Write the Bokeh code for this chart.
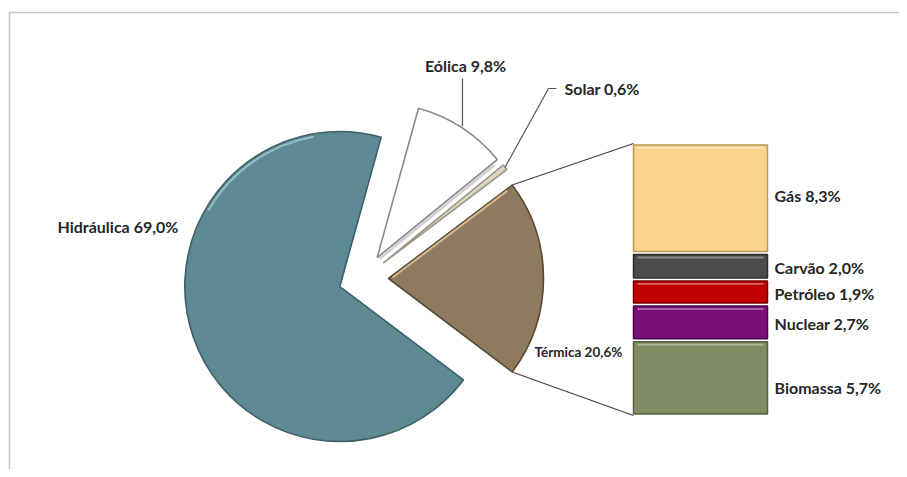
import math
from bokeh.plotting import figure
from bokeh.models import Range1d
from bokeh.core.properties import value
from bokeh.embed import file_html
from bokeh.resources import INLINE

# ---- data ----
categories = ["Hidráulica", "Eólica", "Solar", "Térmica"]
shares = [69.0, 9.8, 0.6, 20.6]
sub_categories = ["Gás", "Carvão", "Petróleo", "Nuclear", "Biomassa"]
sub_shares = [8.3, 2.0, 1.9, 2.7, 5.7]

# ---- styles ----
pie_fill = {"Hidráulica": "#5E8A94", "Eólica": "#FFFFFF", "Solar": "#DCD6C0", "Térmica": "#8E7A5E"}
pie_line = {"Hidráulica": "#3E5F67", "Eólica": "#8A8A8A", "Solar": "#9A9482", "Térmica": "#5A4A36"}
sub_fill = ["#FCD48C", "#4B4B4B", "#C00000", "#7A0F7A", "#7F8C63"]
sub_line = ["#B89A5E", "#2E2E2E", "#7A0000", "#4C064C", "#56603F"]
label_nudge = [-3, 1, 1, 1, 10]  # px offsets of the bar labels (screen, downward)
FONT = "Lato"
TXT = "#262626"

W, H = 899, 469
def Y(ys):
    return 477 - ys

p = figure(width=W, height=H, x_range=Range1d(0, W), y_range=Range1d(477 - H, 477),
           output_backend="svg", toolbar_location=None, min_border=0)
p.axis.visible = False
p.grid.visible = False
p.outline_line_color = None
p.background_fill_color = "white"
p.border_fill_color = "white"

# frame of the chart area
p.line([9, 9, 907], [Y(470), Y(12), Y(12)], line_color="#C6C6C6", line_width=1.5)

def fmt(v):
    return format(v, ".1f").replace(".", ",") + "%"

# ---- pie ----
cx, cy, r, d = 363, Y(278), 155, 25
total = sum(shares)
order = [3, 2, 1, 0]  # anticlockwise from the Térmica slice centred on 0 rad
ang = -shares[3] / total * math.pi
geo = {}
for i in order:
    a0 = ang
    a1 = ang + shares[i] / total * 2 * math.pi
    mid = (a0 + a1) / 2
    ax, ay = cx + d * math.cos(mid), cy + d * math.sin(mid)
    geo[categories[i]] = (ax, ay, a0, a1, mid)
    ang = a1

for name in categories:
    ax, ay, a0, a1, mid = geo[name]
    p.wedge(x=[ax], y=[ay], radius=r, start_angle=[a0], end_angle=[a1], direction="anticlock",
            fill_color=pie_fill[name], line_color=pie_line[name], line_width=1.6)

# soft bevel highlights
ax, ay, a0, a1, mid = geo["Hidráulica"]
p.arc(x=[ax], y=[ay], radius=r - 3, start_angle=[math.radians(100)], end_angle=[math.radians(150)],
      direction="anticlock", line_color="#A9D6E0", line_width=2, line_alpha=0.7)
ax, ay, a0, a1, mid = geo["Térmica"]
p.line([ax + 4, ax + (r - 6) * math.cos(a1)], [ay + 1, ay + (r - 6) * math.sin(a1) - 2],
       line_color="#E8C79A", line_width=2, line_alpha=0.8)
ax, ay, a0, a1, mid = geo["Eólica"]
p.line([ax + 3 * math.cos(a0), ax + (r - 4) * math.cos(a0)],
       [ay + 3 * math.sin(a0) - 3, ay + (r - 4) * math.sin(a0) - 3],
       line_color="#BDBDBD", line_width=3, line_alpha=0.7)

# ---- bar of pie ----
bx0, bx1 = 633, 767
btop, bbot = Y(143), Y(415)
scale = (btop - bbot) / shares[3]
tops, bots, mids = [], [], []
cur = btop
for v in sub_shares:
    tops.append(cur)
    bots.append(cur - v * scale)
    mids.append(cur - v * scale / 2)
    cur -= v * scale
p.quad(left=bx0, right=bx1, top=[t - 1.5 for t in tops], bottom=[b + 1.5 for b in bots],
       fill_color=sub_fill, line_color=sub_line, line_width=1.5)
p.segment(x0=[bx0 + 4] * len(tops), x1=[bx1 - 4] * len(tops), y0=[t - 4.5 for t in tops], y1=[t - 4.5 for t in tops],
          line_color="white", line_alpha=0.35, line_width=2)

# connector lines
ax, ay, a0, a1, mid = geo["Térmica"]
p.line([ax + r * math.cos(a1), bx0], [ay + r * math.sin(a1), btop], line_color="#404040", line_width=1.2)
p.line([ax + r * math.cos(a0), bx0], [ay + r * math.sin(a0), bbot], line_color="#404040", line_width=1.2)

# ---- leader lines ----
ax, ay, a0, a1, mid = geo["Eólica"]
lx = 462
ly = ay + math.sqrt(r ** 2 - (lx - ax) ** 2)
p.line([lx, lx], [Y(78), ly + 2], line_color="#595959", line_width=1.2)
ax, ay, a0, a1, mid = geo["Solar"]
sx, sy = ax + r * math.cos(mid), ay + r * math.sin(mid)
p.line([sx, 548, 556], [sy, Y(88), Y(88)], line_color="#595959", line_width=1.2)

# ---- labels ----
def label(x, y, t, align="left", size="16px"):
    p.text(x=[x], y=[y], text=[t], text_font=value(FONT), text_font_style="bold",
           text_font_size=size, text_color=TXT, text_align=align, text_baseline="middle")

label(57, Y(226), categories[0] + " " + fmt(shares[0]))
label(465, Y(65), categories[1] + " " + fmt(shares[1]), align="center")
label(564, Y(88), categories[2] + " " + fmt(shares[2]))
label(534, Y(351), categories[3] + " " + fmt(shares[3]), size="13.5px")
for name, v, m, n in zip(sub_categories, sub_shares, mids, label_nudge):
    label(774, m - n, name + " " + fmt(v))

open("out.html", "w").write(file_html(p, INLINE))
